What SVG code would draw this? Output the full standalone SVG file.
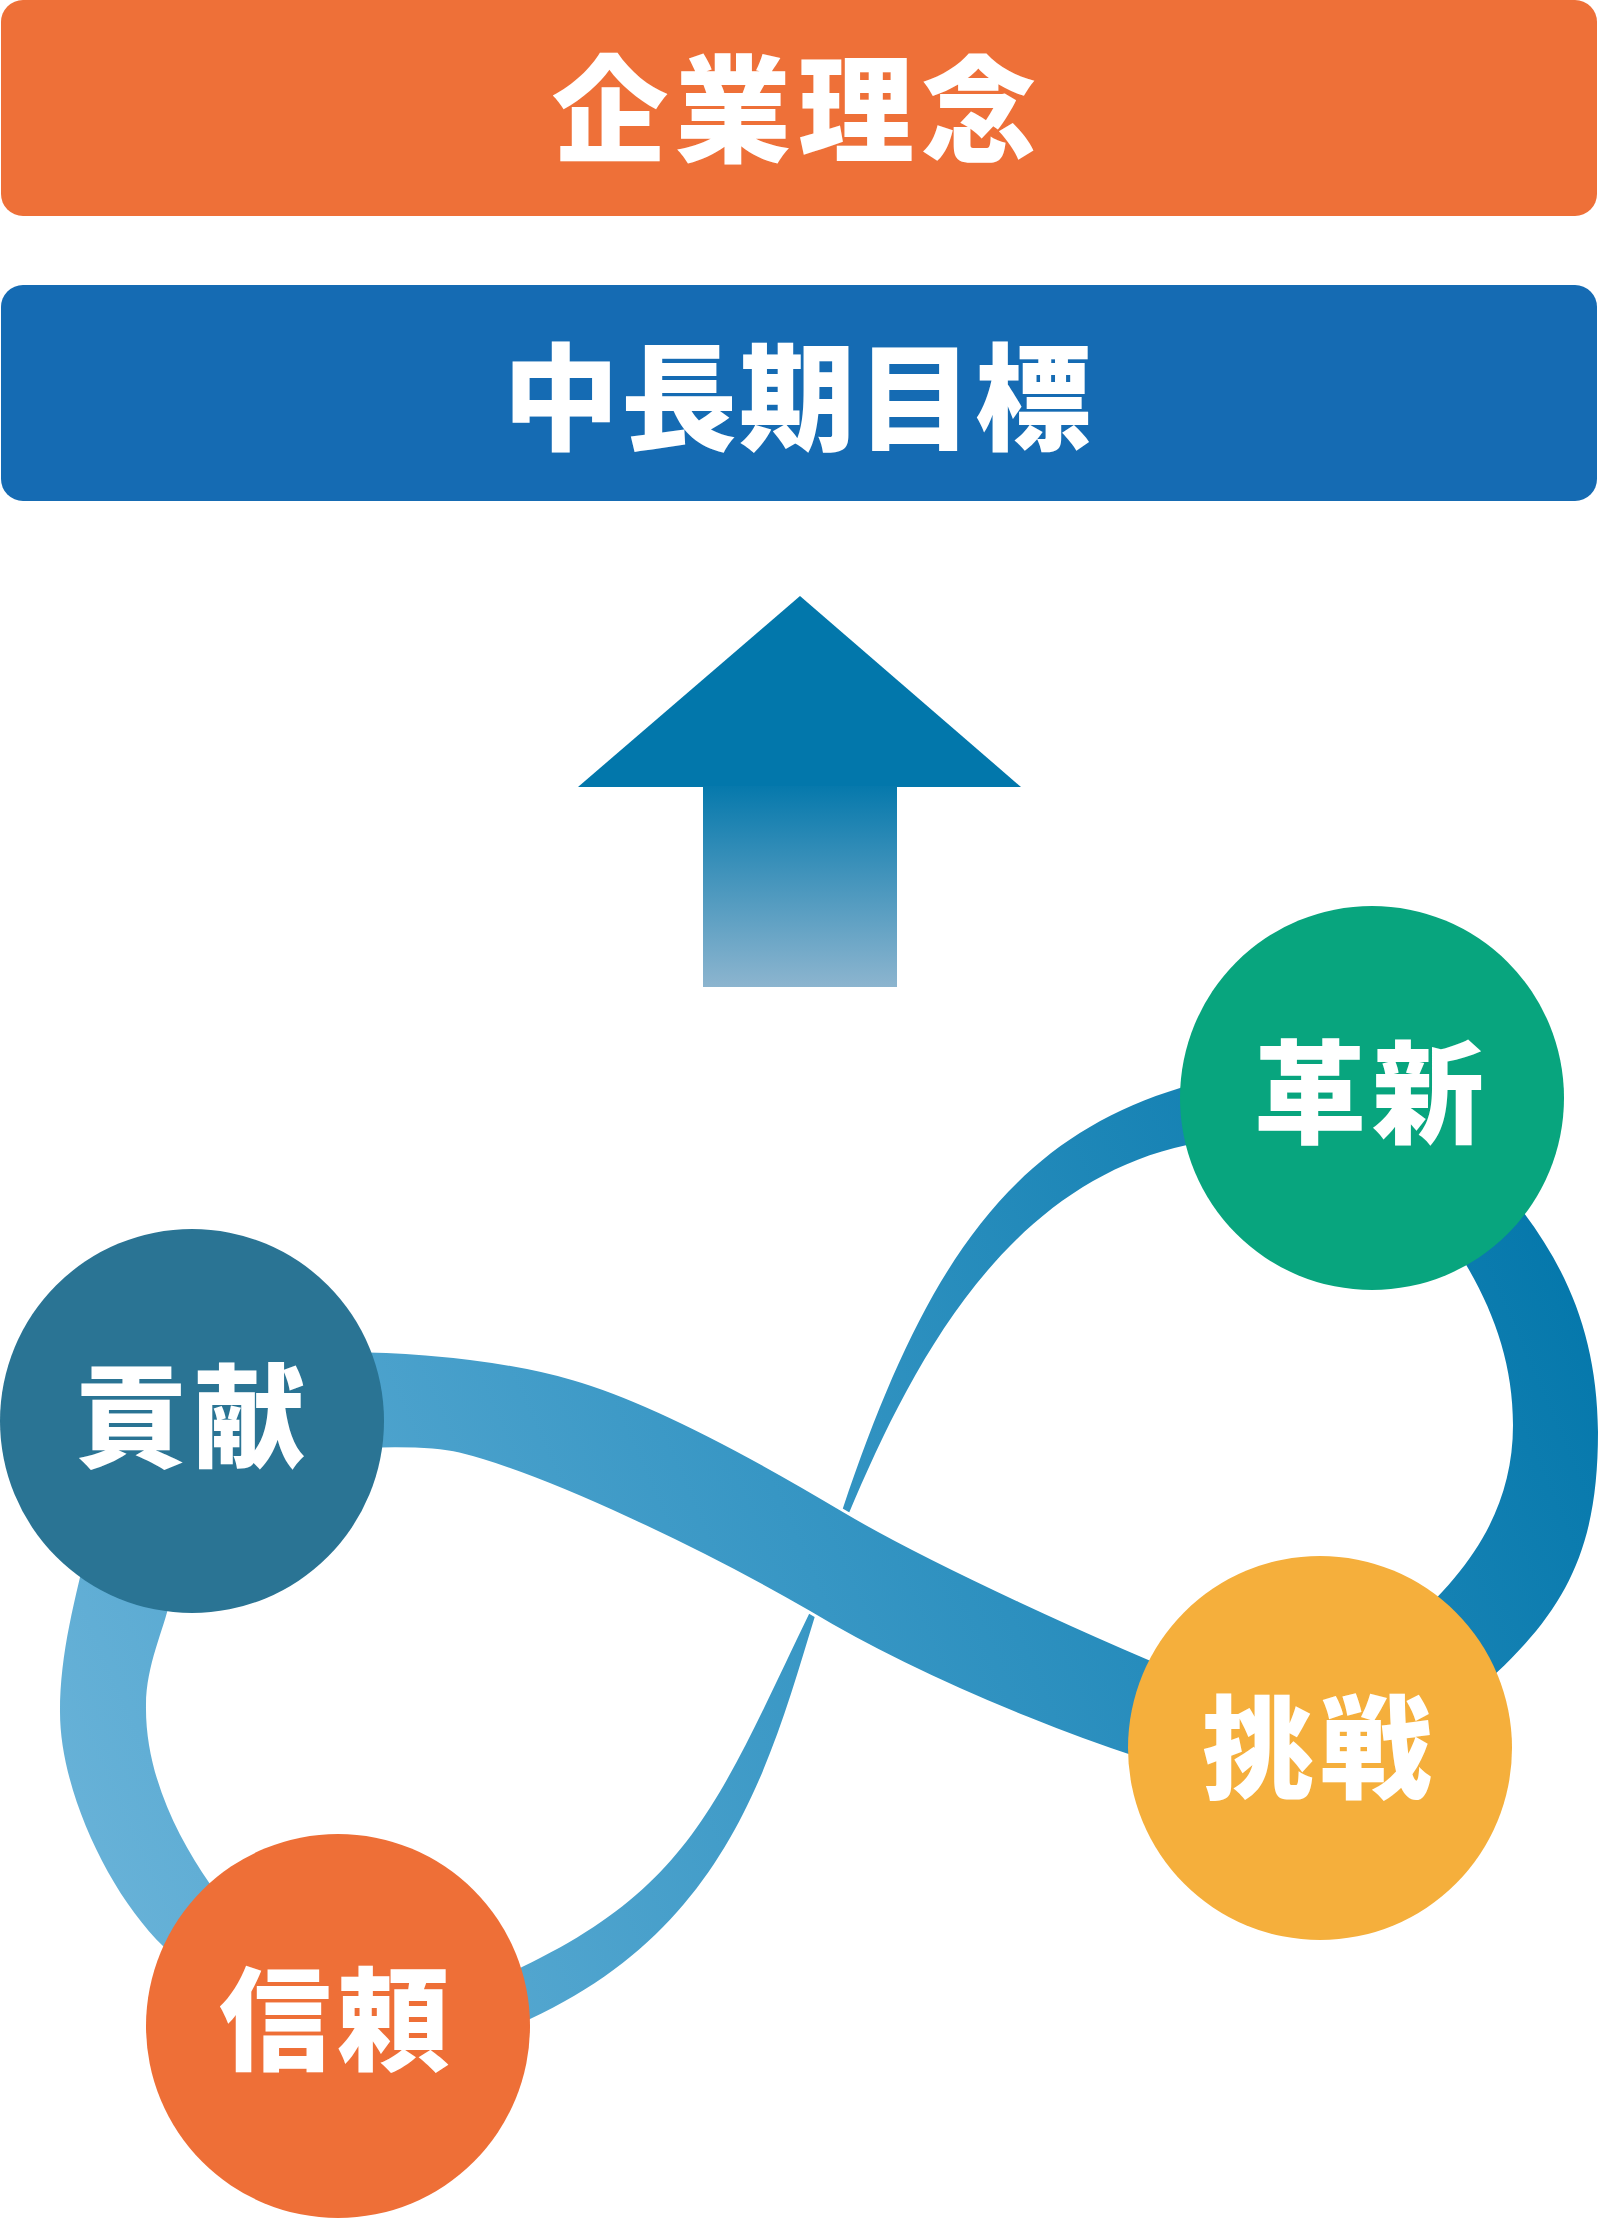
<svg xmlns="http://www.w3.org/2000/svg" width="1600" height="2220" viewBox="0 0 1600 2220">
<defs>
<linearGradient id="ribbon" gradientUnits="userSpaceOnUse" x1="0" y1="1900" x2="1600" y2="1200">
<stop offset="0" stop-color="#6DB5DA"/>
<stop offset="0.5" stop-color="#3796C4"/>
<stop offset="1" stop-color="#0276AA"/>
</linearGradient>
<linearGradient id="shaft" gradientUnits="userSpaceOnUse" x1="0" y1="780" x2="0" y2="988">
<stop offset="0" stop-color="#0277AB"/>
<stop offset="1" stop-color="#8DB5CF"/>
</linearGradient>
</defs>
<style>
.bar-txt{font-family:"Noto Sans CJK JP","Noto Sans CJK SC",sans-serif;font-weight:900;font-size:116px;fill:#fff;text-anchor:middle}
.node-txt{font-family:"Noto Sans CJK JP","Noto Sans CJK SC",sans-serif;font-weight:900;font-size:112px;fill:#fff;text-anchor:middle;letter-spacing:6px}
.rib{fill:url(#ribbon)}
</style>
<rect width="1600" height="2220" fill="#fff"/>

<g id="philosophy">
<rect x="1" y="0" width="1596" height="216" rx="22" fill="#EE7038"/>
<text class="bar-txt" x="798" y="153" style="letter-spacing:7px">企業理念</text>
</g>

<g id="mid-long-term-goal">
<rect x="1" y="285" width="1596" height="216" rx="22" fill="#156BB3"/>
<text class="bar-txt" x="798" y="441" style="letter-spacing:2px">中長期目標</text>
</g>

<g id="arrow">
<polygon points="800,596 1021,787 578,787" fill="#0277AB"/>
<rect x="703" y="786" width="194" height="201" fill="url(#shaft)"/>
</g>

<g id="connectors">
<!-- thin band: 革新 to 信頼 -->
<path class="rib" d="M1205 1081 L1180 1088 C1004.6 1141,921.1 1276.2,843 1508 L810 1612 C719.3 1800.2,690.1 1886.7,522 1967 L490 1985 L500 2030 L530 2019 C728.1 1927.6,770.3 1762,815 1616 L849 1513 C907.8 1374.3,1000.3 1185,1187 1145 L1215 1139 Z"/>
<!-- left loop: 貢献 to 信頼 -->
<path class="rib" d="M90 1535 C75 1600,60 1652,60 1712 C60 1790,109 1894,164 1947 L230 1975 L240 1910 L210 1884 C176 1835,145 1772,146 1705 C146 1665,164 1630,170 1600 L180 1540 Z"/>
<!-- right loop: 革新 to 挑戦 -->
<path class="rib" d="M1490 1172 C1556 1245,1597 1320,1598 1432 C1598 1560,1560 1622,1460 1705 L1405 1628 C1469 1572,1513 1510,1513 1425 C1513 1350,1484 1286,1440 1225 Z"/>
<!-- upper band: 貢献 to 挑戦 -->
<path class="rib" stroke="#fff" stroke-width="3" d="M300 1353 C360 1347,484 1353,574 1379 C664 1405,784 1475,844 1511 C930 1562,1100 1640,1220 1688 L1220 1780 C1130 1765,930 1685,809 1612 C709 1554,549 1476,459 1454 C420 1445,350 1450,300 1452 Z"/>
</g>

<g id="node-kouken">
<circle cx="192" cy="1421" r="192" fill="#2A7494"/>
<text class="node-txt" x="193" y="1459">貢献</text>
</g>
<g id="node-kakushin">
<circle cx="1372" cy="1098" r="192" fill="#08A57E"/>
<text class="node-txt" x="1372" y="1135">革新</text>
</g>
<g id="node-chousen">
<circle cx="1320" cy="1748" r="192" fill="#F5AF3C"/>
<text class="node-txt" x="1320" y="1790">挑戦</text>
</g>
<g id="node-shinrai">
<circle cx="338" cy="2026" r="192" fill="#EE6F37"/>
<text class="node-txt" x="337" y="2062">信頼</text>
</g>
</svg>
